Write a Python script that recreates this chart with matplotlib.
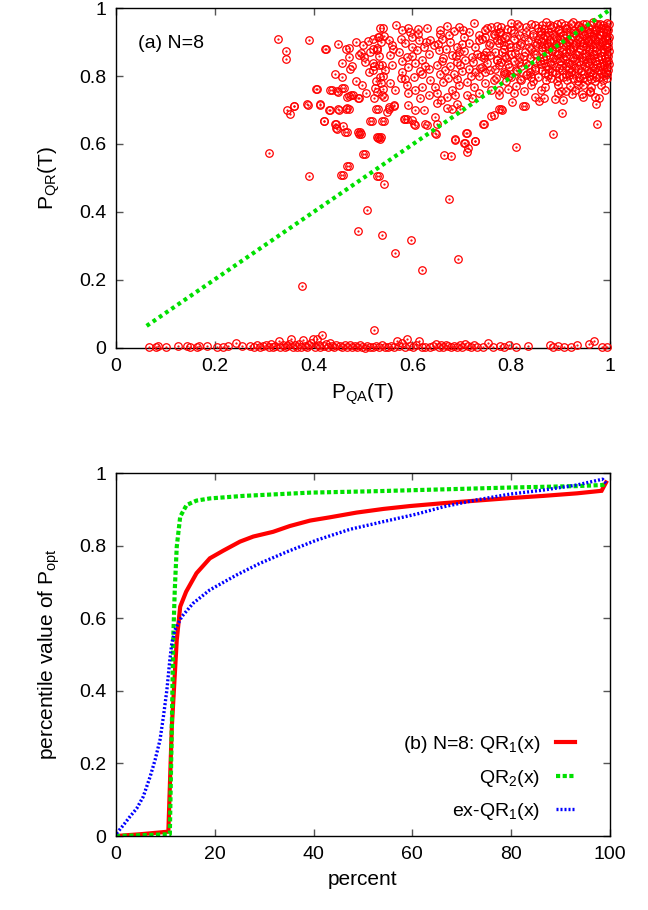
import matplotlib
matplotlib.use("Agg")
import matplotlib.pyplot as plt

plt.rcParams['font.family'] = ['Liberation Sans', 'DejaVu Sans']
plt.rcParams['mathtext.fontset'] = 'custom'
plt.rcParams['mathtext.rm'] = 'Liberation Sans'

# ---- panel (a): P_QA(T) vs P_QR(T), one point per instance ----
# isolated points in the upper part
upper_sparse = [
    (0.328, 0.909), (0.344, 0.874), (0.344, 0.849), (0.391, 0.906), (0.310, 0.573),
    (0.347, 0.700), (0.352, 0.688), (0.360, 0.712), (0.387, 0.718), (0.405, 0.763),
    (0.412, 0.718), (0.422, 0.669), (0.424, 0.879), (0.390, 0.507), (0.456, 0.510),
    (0.468, 0.536), (0.501, 0.571), (0.528, 0.507), (0.444, 0.659), (0.445, 0.646),
    (0.464, 0.634), (0.489, 0.636), (0.491, 0.629), (0.530, 0.617), (0.532, 0.621),
    (0.433, 0.759), (0.447, 0.756), (0.458, 0.764), (0.476, 0.744), (0.489, 0.734),
    (0.468, 0.739), (0.450, 0.702), (0.467, 0.705), (0.432, 0.700), (0.514, 0.669),
    (0.543, 0.669), (0.526, 0.704), (0.553, 0.702), (0.563, 0.712), (0.584, 0.674),
    (0.590, 0.673), (0.603, 0.658), (0.626, 0.659), (0.647, 0.629), (0.686, 0.614),
    (0.709, 0.631), (0.704, 0.604), (0.713, 0.587), (0.710, 0.577), (0.727, 0.610),
    (0.664, 0.567), (0.678, 0.565), (0.742, 0.659), (0.760, 0.682), (0.779, 0.702),
    (0.810, 0.592), (0.827, 0.712), (0.885, 0.629), (0.902, 0.690), (0.973, 0.659),
    (0.972, 0.718), (0.543, 0.481), (0.674, 0.438), (0.509, 0.406), (0.489, 0.344),
    (0.538, 0.331), (0.598, 0.317), (0.565, 0.280), (0.692, 0.262), (0.620, 0.228),
    (0.377, 0.181), (0.523, 0.052),
]

# left-middle group (x 0.3 - 0.55)
upper_left = [
    (0.425, 0.879), (0.449, 0.893), (0.466, 0.878), (0.471, 0.881), (0.491, 0.861),
    (0.496, 0.869), (0.502, 0.856), (0.511, 0.903), (0.520, 0.908), (0.530, 0.915),
    (0.537, 0.901), (0.529, 0.881), (0.520, 0.879), (0.515, 0.871), (0.540, 0.942),
    (0.542, 0.918), (0.471, 0.855), (0.458, 0.839), (0.477, 0.830), (0.473, 0.822),
    (0.444, 0.807), (0.458, 0.797), (0.520, 0.837), (0.523, 0.830), (0.538, 0.832),
    (0.520, 0.817), (0.540, 0.800), (0.527, 0.785), (0.537, 0.778), (0.525, 0.765),
    (0.540, 0.763), (0.538, 0.744), (0.486, 0.786), (0.498, 0.775), (0.462, 0.765),
    (0.479, 0.744), (0.471, 0.741), (0.491, 0.734), (0.522, 0.734), (0.406, 0.762),
    (0.437, 0.759), (0.449, 0.753), (0.361, 0.712), (0.388, 0.716), (0.413, 0.716),
    (0.434, 0.700), (0.452, 0.700), (0.466, 0.704), (0.471, 0.703), (0.531, 0.703),
    (0.422, 0.667), (0.446, 0.660), (0.459, 0.654), (0.448, 0.643), (0.467, 0.634),
    (0.493, 0.636), (0.495, 0.629), (0.518, 0.667), (0.535, 0.614), (0.537, 0.621),
    (0.505, 0.570), (0.471, 0.535), (0.459, 0.508), (0.533, 0.505), (0.505, 0.842),
    (0.512, 0.812), (0.500, 0.891), (0.486, 0.900), (0.507, 0.750), (0.532, 0.860),
]

# middle group (x 0.53 - 0.79)
upper_mid = [
    (0.535, 0.942), (0.579, 0.935), (0.592, 0.942), (0.611, 0.938), (0.630, 0.940),
    (0.670, 0.948), (0.684, 0.932), (0.702, 0.935), (0.724, 0.955), (0.748, 0.935),
    (0.765, 0.925), (0.778, 0.930),
    (0.532, 0.915), (0.552, 0.905), (0.559, 0.891), (0.576, 0.910), (0.586, 0.896),
    (0.599, 0.915), (0.613, 0.905), (0.623, 0.886), (0.636, 0.905), (0.643, 0.891),
    (0.660, 0.910), (0.677, 0.901), (0.690, 0.886), (0.704, 0.915), (0.714, 0.896),
    (0.727, 0.886), (0.741, 0.910), (0.758, 0.896), (0.771, 0.905), (0.785, 0.891),
    (0.555, 0.861), (0.572, 0.871), (0.589, 0.856), (0.609, 0.876), (0.619, 0.847),
    (0.633, 0.866), (0.653, 0.876), (0.663, 0.852), (0.680, 0.861), (0.694, 0.871),
    (0.707, 0.847), (0.721, 0.856), (0.731, 0.866), (0.744, 0.852), (0.758, 0.861),
    (0.771, 0.847), (0.781, 0.871), (0.528, 0.876),
    (0.532, 0.832), (0.545, 0.817), (0.559, 0.832), (0.579, 0.812), (0.592, 0.827),
    (0.606, 0.837), (0.619, 0.807), (0.633, 0.822), (0.650, 0.832), (0.667, 0.817),
    (0.684, 0.807), (0.697, 0.832), (0.714, 0.822), (0.727, 0.812), (0.741, 0.827),
    (0.758, 0.817), (0.775, 0.832), (0.785, 0.807),
    (0.535, 0.798), (0.555, 0.778), (0.576, 0.793), (0.589, 0.773), (0.603, 0.798),
    (0.619, 0.768), (0.636, 0.788), (0.646, 0.768), (0.663, 0.783), (0.673, 0.793),
    (0.694, 0.773), (0.711, 0.783), (0.724, 0.768), (0.748, 0.778), (0.765, 0.788),
    (0.528, 0.754), (0.542, 0.739), (0.565, 0.759), (0.592, 0.749), (0.606, 0.759),
    (0.616, 0.734), (0.633, 0.744), (0.650, 0.749), (0.657, 0.729), (0.670, 0.739),
    (0.687, 0.744), (0.711, 0.744), (0.721, 0.734),
    (0.552, 0.709), (0.562, 0.714), (0.549, 0.695), (0.592, 0.716), (0.606, 0.700),
    (0.623, 0.700), (0.650, 0.722), (0.646, 0.680), (0.670, 0.706), (0.680, 0.704),
    (0.690, 0.719), (0.538, 0.667), (0.586, 0.673), (0.599, 0.670), (0.606, 0.655),
    (0.630, 0.655), (0.650, 0.660), (0.697, 0.702),
    (0.744, 0.660), (0.765, 0.685), (0.781, 0.700), (0.711, 0.631), (0.687, 0.611),
    (0.707, 0.604), (0.727, 0.608), (0.646, 0.631), (0.528, 0.621),
    (0.567, 0.950), (0.655, 0.925), (0.735, 0.920), (0.760, 0.945), (0.600, 0.885),
    (0.700, 0.895), (0.750, 0.870), (0.625, 0.830), (0.690, 0.840), (0.735, 0.800),
    (0.760, 0.760), (0.775, 0.745), (0.735, 0.750), (0.680, 0.760), (0.585, 0.790),
    (0.655, 0.935), (0.675, 0.920), (0.695, 0.945), (0.715, 0.930), (0.735, 0.905),
    (0.652, 0.895), (0.668, 0.880), (0.688, 0.860), (0.705, 0.875), (0.722, 0.840),
    (0.738, 0.860), (0.660, 0.845), (0.676, 0.830), (0.700, 0.815), (0.718, 0.800),
    (0.737, 0.825), (0.655, 0.805), (0.690, 0.790), (0.612, 0.925), (0.628, 0.900),
    (0.600, 0.860), (0.615, 0.815), (0.580, 0.845), (0.595, 0.930), (0.560, 0.880),
]

# dense cluster near the upper right corner
upper_dense = [
    (0.800, 0.957), (0.840, 0.952), (0.870, 0.958), (0.900, 0.955), (0.925, 0.960),
    (0.945, 0.954), (0.965, 0.958), (0.980, 0.953), (0.993, 0.957),
    (0.780, 0.944), (0.815, 0.947), (0.855, 0.942), (0.885, 0.946), (0.910, 0.941),
    (0.935, 0.946), (0.955, 0.943), (0.975, 0.947), (0.990, 0.942),
    (0.775, 0.930), (0.800, 0.934), (0.830, 0.929), (0.860, 0.933), (0.875, 0.928),
    (0.895, 0.934), (0.920, 0.930), (0.940, 0.935), (0.960, 0.929), (0.972, 0.934),
    (0.985, 0.930), (0.996, 0.934),
    (0.790, 0.918), (0.815, 0.922), (0.845, 0.917), (0.868, 0.921), (0.888, 0.917),
    (0.905, 0.922), (0.925, 0.918), (0.948, 0.921), (0.965, 0.917), (0.980, 0.922),
    (0.992, 0.918),
    (0.780, 0.905), (0.805, 0.909), (0.835, 0.904), (0.855, 0.909), (0.878, 0.905),
    (0.898, 0.908), (0.915, 0.904), (0.935, 0.909), (0.955, 0.905), (0.970, 0.909),
    (0.985, 0.904), (0.997, 0.908),
    (0.795, 0.893), (0.820, 0.897), (0.850, 0.892), (0.872, 0.896), (0.890, 0.893),
    (0.910, 0.897), (0.930, 0.892), (0.945, 0.896), (0.962, 0.893), (0.978, 0.897),
    (0.990, 0.893),
    (0.785, 0.880), (0.810, 0.884), (0.840, 0.879), (0.862, 0.884), (0.882, 0.880),
    (0.900, 0.884), (0.920, 0.879), (0.940, 0.883), (0.958, 0.880), (0.972, 0.884),
    (0.987, 0.880), (0.996, 0.884),
    (0.800, 0.866), (0.828, 0.870), (0.850, 0.865), (0.875, 0.870), (0.895, 0.866),
    (0.912, 0.870), (0.930, 0.865), (0.950, 0.869), (0.967, 0.866), (0.982, 0.870),
    (0.993, 0.866),
    (0.790, 0.853), (0.815, 0.857), (0.838, 0.852), (0.865, 0.857), (0.885, 0.853),
    (0.905, 0.857), (0.925, 0.852), (0.943, 0.856), (0.960, 0.853), (0.975, 0.857),
    (0.990, 0.852),
    (0.780, 0.840), (0.805, 0.844), (0.830, 0.839), (0.858, 0.844), (0.878, 0.840),
    (0.898, 0.844), (0.918, 0.839), (0.937, 0.843), (0.955, 0.840), (0.970, 0.844),
    (0.985, 0.839), (0.997, 0.843),
    (0.795, 0.826), (0.820, 0.830), (0.848, 0.825), (0.870, 0.830), (0.890, 0.826),
    (0.910, 0.830), (0.930, 0.825), (0.950, 0.829), (0.965, 0.826), (0.980, 0.830),
    (0.993, 0.826),
    (0.785, 0.813), (0.810, 0.817), (0.838, 0.812), (0.862, 0.817), (0.882, 0.813),
    (0.902, 0.817), (0.922, 0.812), (0.942, 0.816), (0.960, 0.813), (0.975, 0.817),
    (0.990, 0.812),
    (0.800, 0.798), (0.830, 0.802), (0.855, 0.797), (0.875, 0.802), (0.897, 0.798),
    (0.917, 0.802), (0.937, 0.797), (0.957, 0.801), (0.972, 0.798), (0.988, 0.802),
    (0.790, 0.785), (0.820, 0.789), (0.845, 0.784), (0.870, 0.789), (0.892, 0.785),
    (0.913, 0.789), (0.935, 0.784), (0.953, 0.788), (0.970, 0.785), (0.985, 0.789),
    (0.810, 0.770), (0.840, 0.774), (0.868, 0.769), (0.895, 0.774), (0.920, 0.770),
    (0.945, 0.774), (0.962, 0.769), (0.982, 0.773),
    (0.825, 0.757), (0.860, 0.760), (0.900, 0.756), (0.930, 0.760), (0.960, 0.757),
    (0.990, 0.760),
    (0.776, 0.758), (0.793, 0.761), (0.805, 0.749), (0.802, 0.724), (0.824, 0.712),
    (0.775, 0.702), (0.849, 0.739), (0.856, 0.726), (0.867, 0.734), (0.888, 0.731),
    (0.905, 0.729), (0.894, 0.749), (0.911, 0.755), (0.923, 0.746), (0.935, 0.773),
    (0.944, 0.746), (0.946, 0.739), (0.959, 0.754), (0.969, 0.739), (0.978, 0.734),
]

# the solid core of the cluster (x > 0.86)
dense_core = [
    (0.862, 0.951), (0.878, 0.949), (0.893, 0.953), (0.908, 0.950), (0.921, 0.952),
    (0.936, 0.949), (0.951, 0.953), (0.962, 0.950), (0.973, 0.952), (0.986, 0.949),
    (0.998, 0.953),
    (0.866, 0.938), (0.880, 0.940), (0.896, 0.937), (0.913, 0.939), (0.927, 0.936),
    (0.941, 0.940), (0.958, 0.938), (0.969, 0.936), (0.981, 0.940), (0.994, 0.937),
    (0.860, 0.925), (0.884, 0.923), (0.899, 0.927), (0.912, 0.924), (0.929, 0.926),
    (0.944, 0.923), (0.955, 0.927), (0.968, 0.925), (0.978, 0.923), (0.991, 0.926),
    (0.864, 0.912), (0.872, 0.914), (0.890, 0.911), (0.907, 0.913), (0.920, 0.910),
    (0.938, 0.914), (0.952, 0.912), (0.962, 0.910), (0.976, 0.913), (0.989, 0.911),
    (0.999, 0.914),
    (0.861, 0.899), (0.879, 0.901), (0.896, 0.898), (0.917, 0.900), (0.931, 0.897),
    (0.940, 0.901), (0.955, 0.899), (0.969, 0.897), (0.984, 0.901), (0.996, 0.898),
    (0.868, 0.886), (0.875, 0.888), (0.891, 0.885), (0.910, 0.887), (0.926, 0.884),
    (0.946, 0.888), (0.951, 0.886), (0.965, 0.884), (0.980, 0.888), (0.992, 0.885),
    (0.862, 0.873), (0.883, 0.875), (0.903, 0.872), (0.920, 0.874), (0.938, 0.871),
    (0.957, 0.875), (0.972, 0.873), (0.988, 0.871), (0.999, 0.875),
    (0.871, 0.860), (0.893, 0.862), (0.911, 0.859), (0.933, 0.861), (0.951, 0.858),
    (0.966, 0.862), (0.982, 0.860), (0.996, 0.858),
    (0.866, 0.847), (0.888, 0.849), (0.908, 0.846), (0.927, 0.848), (0.946, 0.845),
    (0.962, 0.849), (0.978, 0.847), (0.992, 0.845),
    (0.860, 0.834), (0.881, 0.836), (0.900, 0.833), (0.921, 0.835), (0.940, 0.832),
    (0.958, 0.836), (0.973, 0.834), (0.988, 0.832), (0.999, 0.836),
    (0.875, 0.821), (0.896, 0.823), (0.917, 0.820), (0.936, 0.822), (0.955, 0.819),
    (0.970, 0.823), (0.985, 0.821), (0.997, 0.819),
    (0.868, 0.808), (0.890, 0.810), (0.910, 0.807), (0.930, 0.809), (0.948, 0.806),
    (0.966, 0.810), (0.982, 0.808), (0.995, 0.806),
    (0.880, 0.794), (0.905, 0.796), (0.926, 0.793), (0.945, 0.795), (0.962, 0.792),
    (0.978, 0.796), (0.994, 0.794),
    (0.752, 0.940), (0.772, 0.948), (0.792, 0.938), (0.812, 0.952), (0.830, 0.944),
    (0.848, 0.950), (0.748, 0.915), (0.768, 0.922), (0.788, 0.912), (0.806, 0.926),
    (0.826, 0.914), (0.845, 0.924), (0.755, 0.890), (0.776, 0.898), (0.798, 0.885),
    (0.818, 0.892), (0.836, 0.886), (0.852, 0.898), (0.745, 0.862), (0.768, 0.872),
    (0.788, 0.860), (0.808, 0.868), (0.826, 0.858), (0.846, 0.866), (0.752, 0.838),
    (0.772, 0.846), (0.794, 0.834), (0.815, 0.842), (0.834, 0.832), (0.850, 0.840),
    (0.748, 0.812), (0.768, 0.820), (0.790, 0.808), (0.812, 0.816), (0.832, 0.806),
    (0.848, 0.818), (0.770, 0.795), (0.795, 0.800), (0.818, 0.792), (0.840, 0.798),
]

# instances that almost never reach the ground state with QR
bottom_band = [
    (0.067, 0.004), (0.080, 0.003), (0.086, 0.005), (0.101, 0.004), (0.126, 0.006),
    (0.143, 0.007), (0.150, 0.004), (0.165, 0.003), (0.168, 0.006), (0.184, 0.006),
    (0.204, 0.002), (0.217, 0.003), (0.227, 0.005), (0.242, 0.014), (0.256, 0.007),
    (0.271, 0.005), (0.279, 0.003), (0.285, 0.008), (0.291, 0.002), (0.297, 0.006),
    (0.303, 0.010), (0.309, 0.004), (0.314, 0.012), (0.318, 0.002), (0.322, 0.007),
    (0.329, 0.020), (0.333, 0.004), (0.338, 0.009), (0.342, 0.002), (0.347, 0.006),
    (0.351, 0.012), (0.354, 0.026), (0.358, 0.003), (0.362, 0.008), (0.367, 0.004),
    (0.371, 0.011), (0.375, 0.002), (0.378, 0.024), (0.382, 0.006), (0.386, 0.003),
    (0.390, 0.009), (0.394, 0.014), (0.398, 0.026), (0.402, 0.004), (0.406, 0.026),
    (0.410, 0.008), (0.414, 0.002), (0.418, 0.039), (0.421, 0.006), (0.425, 0.011),
    (0.429, 0.003), (0.433, 0.016), (0.437, 0.005), (0.441, 0.002), (0.445, 0.008),
    (0.453, 0.006), (0.458, 0.003), (0.463, 0.010), (0.468, 0.004), (0.473, 0.008),
    (0.478, 0.002), (0.483, 0.006), (0.488, 0.003), (0.494, 0.009), (0.499, 0.004),
    (0.504, 0.001), (0.509, 0.007), (0.514, 0.003), (0.520, 0.002), (0.526, 0.005),
    (0.532, 0.003), (0.538, 0.008), (0.544, 0.004), (0.550, 0.002), (0.556, 0.006),
    (0.562, 0.003), (0.568, 0.020), (0.573, 0.005), (0.580, 0.014), (0.585, 0.003),
    (0.590, 0.026), (0.596, 0.006), (0.602, 0.002), (0.608, 0.008), (0.614, 0.020),
    (0.619, 0.004), (0.625, 0.002), (0.636, 0.004), (0.642, 0.007), (0.648, 0.012),
    (0.653, 0.004), (0.658, 0.009), (0.663, 0.003), (0.668, 0.008), (0.673, 0.005),
    (0.678, 0.002), (0.684, 0.007), (0.690, 0.004), (0.696, 0.009), (0.701, 0.003),
    (0.707, 0.011), (0.712, 0.006), (0.718, 0.002), (0.724, 0.008), (0.730, 0.004),
    (0.742, 0.003), (0.754, 0.015), (0.764, 0.004), (0.777, 0.006), (0.786, 0.003),
    (0.796, 0.009), (0.810, 0.004), (0.835, 0.006), (0.879, 0.008), (0.884, 0.003),
    (0.895, 0.007), (0.906, 0.004), (0.922, 0.003), (0.933, 0.008), (0.957, 0.012),
    (0.968, 0.022), (0.983, 0.003), (0.993, 0.002),
]

# y = x reference line
diag_x = [0.062, 1.0]
diag_y = [0.065, 0.995]

# ---- panel (b): percentile curves ----
qr1_pct = [0, 5, 10.6, 11.3, 12.3, 13.0, 14.2, 16.3, 19.0, 21.7, 25.1, 27.8, 31.8, 35.2,
           39.3, 43.3, 48.7, 54.1, 59.5, 66.3, 73.0, 79.8, 86.5, 93.3, 98.3, 99.2]
qr1_val = [0.0, 0.005, 0.012, 0.30, 0.54, 0.632, 0.673, 0.724, 0.765, 0.786, 0.811, 0.825,
           0.838, 0.854, 0.869, 0.878, 0.891, 0.901, 0.909, 0.917, 0.924, 0.931, 0.937,
           0.944, 0.951, 0.974]

qr2_pct = [0, 5, 10.9, 11.3, 11.6, 11.9, 12.3, 13.0, 14.3, 16.3, 19.0, 25.8, 39.3, 52.8,
           66.3, 79.8, 93.3, 98.6, 99.2]
qr2_val = [0.0, 0.002, 0.005, 0.30, 0.549, 0.678, 0.797, 0.880, 0.912, 0.924, 0.930, 0.937,
           0.946, 0.950, 0.955, 0.960, 0.964, 0.967, 0.973]

exqr1_pct = [0.1, 1.5, 2.8, 4.2, 5.5, 6.9, 7.9, 8.9, 9.6, 10.3, 10.9, 11.3, 11.9, 13.3,
             15.6, 19.0, 24.4, 29.1, 34.6, 40.6, 47.4, 54.1, 60.9, 66.3, 73.0, 79.8,
             86.5, 93.3, 98.5, 99.2]
exqr1_val = [0.007, 0.030, 0.053, 0.076, 0.108, 0.163, 0.209, 0.264, 0.329, 0.402, 0.485,
             0.531, 0.567, 0.604, 0.641, 0.678, 0.719, 0.751, 0.783, 0.815, 0.845, 0.866,
             0.887, 0.907, 0.926, 0.942, 0.953, 0.967, 0.983, 0.972]

RED = '#ff0000'
GREEN = '#00e000'
BLUE = '#0000ff'
FS = 14

fig = plt.figure(figsize=(6.48, 9.10), dpi=100)
ax1 = fig.add_axes([0.179, 0.6176, 0.7623, 0.3736])
ax2 = fig.add_axes([0.179, 0.0813, 0.7623, 0.3989])


def style_axes(ax):
    ax.tick_params(direction='in', top=True, right=True, length=5, width=1,
                   color='#555555', labelsize=FS, pad=7)
    for s in ax.spines.values():
        s.set_linewidth(1.0)


# panel (a)
all_pts = upper_sparse + upper_left + upper_mid + upper_dense + dense_core + bottom_band
px = [p[0] for p in all_pts]
py = [p[1] for p in all_pts]
ax1.plot(px, py, linestyle='none', marker='o', ms=5.4, mfc='none', mec=RED,
         mew=0.9, clip_on=False, zorder=3)
ax1.plot(px, py, linestyle='none', marker='.', ms=1.2, color=RED, clip_on=False, zorder=3)
ax1.plot(diag_x, diag_y, color=GREEN, lw=3, linestyle=(0, (0.9, 0.9)), zorder=4)
ax1.set_xlim(0, 1)
ax1.set_ylim(0, 1)
ticks = [0, 0.2, 0.4, 0.6, 0.8, 1]
tlabels = ['0', '0.2', '0.4', '0.6', '0.8', '1']
ax1.set_xticks(ticks, tlabels)
ax1.set_yticks(ticks, tlabels)
style_axes(ax1)
ax1.set_xlabel(r'P$_\mathregular{QA}$(T)', fontsize=FS + 1, labelpad=5)
ax1.set_ylabel(r'P$_\mathregular{QR}$(T)', fontsize=FS + 1, labelpad=12)
ax1.text(0.045, 0.897, '(a) N=8', transform=ax1.transAxes, fontsize=FS,
         va='center', ha='left')

# panel (b)
ax2.plot(qr1_pct, qr1_val, color=RED, lw=3, solid_joinstyle='miter',
         label=r'(b) N=8: QR$_\mathregular{1}$(x)')
ax2.plot(qr2_pct, qr2_val, color=GREEN, lw=3, linestyle=(0, (1.0, 0.6)),
         label=r'QR$_\mathregular{2}$(x)')
ax2.plot(exqr1_pct, exqr1_val, color=BLUE, lw=2.4, linestyle=(0, (0.6, 0.6)),
         label=r'ex-QR$_\mathregular{1}$(x)')
ax2.set_xlim(0, 100)
ax2.set_ylim(0, 1)
ax2.set_xticks([0, 20, 40, 60, 80, 100], ['0', '20', '40', '60', '80', '100'])
ax2.set_yticks(ticks, tlabels)
style_axes(ax2)
ax2.set_xlabel('percent', fontsize=FS + 1, labelpad=5)
ax2.set_ylabel(r'percentile value of P$_\mathregular{opt}$', fontsize=FS + 1, labelpad=12)
leg = ax2.legend(loc='lower right', bbox_to_anchor=(0.965, -0.01), frameon=False,
                 markerfirst=False, fontsize=FS, handlelength=1.0, handletextpad=0.8,
                 labelspacing=0.65)

fig.savefig('out.png', dpi=100)
